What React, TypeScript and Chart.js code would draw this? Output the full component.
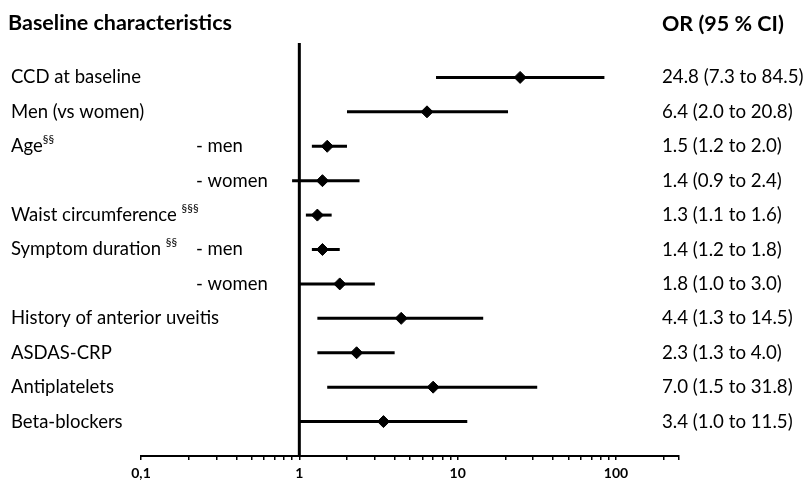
import React, { useEffect, useRef } from "react";
import { Chart, registerables } from "chart.js";

Chart.register(...registerables);

// ---- data ----
const rowLabels = [
  "CCD at baseline",
  "Men (vs women)",
  "Age",
  "",
  "Waist circumference ",
  "Symptom duration ",
  "",
  "History of anterior uveitis",
  "ASDAS-CRP",
  "Antiplatelets",
  "Beta-blockers",
];
const rowSuperscripts = ["", "", "§§", "", "§§§", "§§", "", "", "", "", ""];
const subLabels = ["", "", "- men", "- women", "", "- men", "- women", "", "", "", ""];
const oddsRatios = [24.8, 6.4, 1.5, 1.4, 1.3, 1.4, 1.8, 4.4, 2.3, 7.0, 3.4];
const ciLower = [7.3, 2.0, 1.2, 0.9, 1.1, 1.2, 1.0, 1.3, 1.3, 1.5, 1.0];
const ciUpper = [84.5, 20.8, 2.0, 2.4, 1.6, 1.8, 3.0, 14.5, 4.0, 31.8, 11.5];
const majorTicks = [0.1, 1, 10, 100];
const majorTickLabels = ["0,1", "1", "10", "100"];
const minorTicks = [
  0.2, 0.3, 0.4, 0.5, 0.6, 0.7, 0.8, 0.9,
  2, 3, 4, 5, 6, 7, 8, 9,
  20, 30, 40, 50, 60, 70, 80, 90,
  200, 250,
];
const xMin = 0.1;
const xMax = 250;
const referenceValue = 1;
const titleLeft = "Baseline characteristics";
const titleRight = "OR (95 % CI)";

const FONT = "Lato, 'Open Sans', sans-serif";

const textPlugin = {
  id: "forestText",
  afterDraw(chart: any) {
    const ctx = chart.ctx as CanvasRenderingContext2D;
    const y = chart.scales.y;
    ctx.save();
    ctx.fillStyle = "#000";
    ctx.textBaseline = "middle";
    ctx.textAlign = "left";
    ctx.font = `bold 21.5px ${FONT}`;
    ctx.fillText(titleLeft, 8, 23);
    ctx.fillText(titleRight, 662, 24);
    rowLabels.forEach((lab, i) => {
      const py = y.getPixelForValue(i + 1);
      ctx.font = `18.5px ${FONT}`;
      if (lab) {
        ctx.fillText(lab, 11, py);
        const w = ctx.measureText(lab).width;
        if (rowSuperscripts[i]) {
          ctx.font = `11.5px ${FONT}`;
          ctx.fillText(rowSuperscripts[i], 11 + w, py - 7);
          ctx.font = `18.5px ${FONT}`;
        }
      }
      if (subLabels[i]) ctx.fillText(subLabels[i], 196, py);
      const txt = `${oddsRatios[i].toFixed(1)} (${ciLower[i].toFixed(1)} to ${ciUpper[i].toFixed(1)})`;
      ctx.font = `18.7px ${FONT}`;
      ctx.fillText(txt, 662, py);
    });
    ctx.restore();
  },
};

export default function App() {
  const ref = useRef<HTMLCanvasElement | null>(null);
  useEffect(() => {
    if (!ref.current) return;
    const rows = oddsRatios.map((_, i) => i + 1);
    const datasets: any[] = [
      {
        data: [
          { x: referenceValue, y: 0 },
          { x: referenceValue, y: rowLabels.length + 1 },
        ],
        showLine: true,
        borderColor: "#000",
        borderWidth: 3,
        pointRadius: 0,
      },
      ...rows.map((r, i) => ({
        data: [
          { x: ciLower[i], y: r },
          { x: ciUpper[i], y: r },
        ],
        showLine: true,
        borderColor: "#000",
        borderWidth: 3,
        borderCapStyle: "butt",
        pointRadius: 0,
      })),
      {
        data: rows.map((r, i) => ({ x: oddsRatios[i], y: r })),
        pointStyle: "rectRot",
        pointRadius: 6,
        backgroundColor: "#000",
        borderColor: "#000",
        borderWidth: 1,
      },
    ];
    const chart = new Chart(ref.current, {
      type: "scatter",
      data: { datasets },
      plugins: [textPlugin],
      options: {
        animation: false,
        responsive: false,
        devicePixelRatio: 1,
        layout: { padding: { left: 141, right: 126, top: 43, bottom: 0 } },
        plugins: { legend: { display: false }, tooltip: { enabled: false } },
        scales: {
          x: {
            type: "logarithmic",
            min: xMin,
            max: xMax,
            afterBuildTicks: (scale: any) => {
              scale.ticks = [...majorTicks, ...minorTicks]
                .sort((a, b) => a - b)
                .map((v) => ({ value: v }));
            },
            afterFit: (scale: any) => {
              scale.height = 27;
            },
            grid: {
              display: true,
              drawOnChartArea: false,
              drawTicks: true,
              tickLength: 4,
              color: "#000",
              lineWidth: 1.5,
            },
            border: { display: true, color: "#000", width: 2 },
            ticks: {
              autoSkip: false,
              maxRotation: 0,
              minRotation: 0,
              padding: 5,
              color: "#000",
              font: { family: FONT, size: 14, weight: "bold" },
              callback: (value: any) => {
                const idx = majorTicks.findIndex((m) => Math.abs(m - Number(value)) < 1e-9);
                return idx >= 0 ? majorTickLabels[idx] : "";
              },
            },
          },
          y: {
            type: "linear",
            display: false,
            reverse: true,
            min: 0,
            max: rowLabels.length + 1,
          },
        },
      } as any,
    });
    return () => chart.destroy();
  }, []);
  return (
    <div style={{ position: "fixed", left: 0, top: 0, width: 805, height: 483, background: "#fff" }}>
      <canvas ref={ref} width={805} height={483} style={{ width: 805, height: 483, display: "block" }} />
    </div>
  );
}
